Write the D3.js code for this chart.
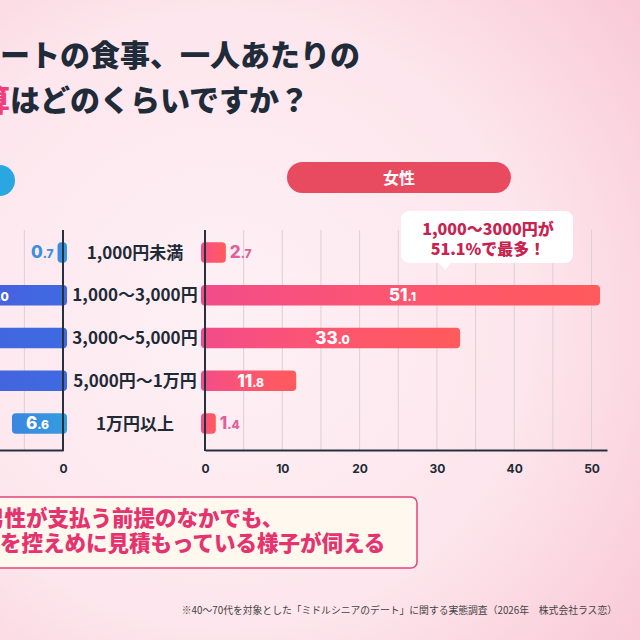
<!DOCTYPE html>
<html>
<head>
<meta charset="utf-8">
<script src="https://cdn.jsdelivr.net/npm/d3@7"></script>
<style>
  html, body { margin: 0; padding: 0; background: #fde8ee; }
  svg { display: block; font-family: "Noto Sans CJK JP", "Noto Sans", sans-serif; }
</style>
</head>
<body>
<div id="chart"></div>
<script>
let width = 640, height = 640;

// data
let categories = ["1,000円未満", "1,000〜3,000円", "3,000〜5,000円", "5,000円〜1万円", "1万円以上"];
let women = [2.7, 51.1, 33.0, 11.8, 1.4];
let men = [0.7, 18.0, 47.5, 27.2, 6.6];
let tickValues = [0, 10, 20, 30, 40, 50];
let gridValues = [5, 10, 15, 20, 25, 30, 35, 40, 45, 50];

let svg = d3.select("#chart").append("svg")
    .attr("width", width).attr("height", height)
    .attr("viewBox", [0, 0, width, height]);

let defs = svg.append("defs");
let bg = defs.append("radialGradient").attr("id", "bg")
    .attr("cx", "0.35").attr("cy", "0.5").attr("r", "0.8");
bg.append("stop").attr("offset", "0").attr("stop-color", "#fdf1f5");
bg.append("stop").attr("offset", "0.6").attr("stop-color", "#fde6ed");
bg.append("stop").attr("offset", "1").attr("stop-color", "#f9cbd8");

let wg = defs.append("linearGradient").attr("id", "wbar");
wg.append("stop").attr("offset", "0").attr("stop-color", "#f24c8a");
wg.append("stop").attr("offset", "0.5").attr("stop-color", "#fd5670");
wg.append("stop").attr("offset", "1").attr("stop-color", "#ff5a5c");

let mg = defs.append("linearGradient").attr("id", "mbar");
mg.append("stop").attr("offset", "0").attr("stop-color", "#5058e0");
mg.append("stop").attr("offset", "1").attr("stop-color", "#3e6ae0");

let mgs = defs.append("linearGradient").attr("id", "mbarSmall");
mgs.append("stop").attr("offset", "0").attr("stop-color", "#3a86e0");
mgs.append("stop").attr("offset", "1").attr("stop-color", "#349de0");

svg.append("rect").attr("width", width).attr("height", height).attr("fill", "url(#bg)");

// title
let title = svg.append("g").attr("fill", "#1f2b38").attr("font-size", 30).attr("font-weight", 900);
title.append("text").attr("x", -30).attr("y", 66).text("デートの食事、一人あたりの");
let t2 = title.append("text").attr("x", -50).attr("y", 111);
t2.append("tspan").attr("fill", "#ee3f7c").text("予算");
t2.append("tspan").text("はどのくらいですか？");

// scales
let y = d3.scaleBand().domain(categories).range([231, 445]).paddingInner(0.52).paddingOuter(0.26);
let xW = d3.scaleLinear().domain([0, 52]).range([205, 607]);
let xM = d3.scaleLinear().domain([0, 52]).range([63, 63 - 402]);
let gridTop = 230, gridBottom = 450;

// legend pills
svg.append("rect").attr("x", 287).attr("y", 162).attr("width", 224).attr("height", 31)
    .attr("rx", 15.5).attr("fill", "#e84a60");
svg.append("text").attr("x", 399).attr("y", 178).attr("dy", "0.35em")
    .attr("text-anchor", "middle").attr("fill", "#fff").attr("font-size", 16).attr("font-weight", 700).text("女性");
svg.append("rect").attr("x", -209).attr("y", 165).attr("width", 224).attr("height", 31)
    .attr("rx", 15.5).attr("fill", "#2aa6e0");
svg.append("text").attr("x", -97).attr("y", 181).attr("dy", "0.35em")
    .attr("text-anchor", "middle").attr("fill", "#fff").attr("font-size", 16).attr("font-weight", 700).text("男性");

// grid
svg.append("g").selectAll("line").data(gridValues).join("line")
    .attr("x1", d => xW(d)).attr("x2", d => xW(d))
    .attr("y1", gridTop).attr("y2", gridBottom)
    .attr("stroke", "#dccfd6").attr("stroke-width", 1);
svg.append("g").selectAll("line").data(gridValues).join("line")
    .attr("x1", d => xM(d)).attr("x2", d => xM(d))
    .attr("y1", gridTop).attr("y2", gridBottom)
    .attr("stroke", "#dccfd6").attr("stroke-width", 1);

// callout
let call = svg.append("g");
call.append("path")
    .attr("d", "M401,219 a8,8 0 0 1 8,-8 h156 a8,8 0 0 1 8,8 v36 a8,8 0 0 1 -8,8 h-114 l-6,7 l-6,-7 h-30 a8,8 0 0 1 -8,-8 z")
    .attr("fill", "#ffffff");
call.append("text").attr("x", 488).attr("y", 235).attr("text-anchor", "middle")
    .attr("fill", "#c8234f").attr("font-size", 16).attr("font-weight", 800).text("1,000〜3000円が");
call.append("text").attr("x", 488).attr("y", 255).attr("text-anchor", "middle")
    .attr("fill", "#c8234f").attr("font-size", 16).attr("font-weight", 800).text("51.1%で最多！");

// bars
let threshold = 5;
function labelParts(sel, v) {
    let s = v.toFixed(1).split(".");
    sel.append("tspan").attr("font-size", 17).text(s[0]);
    sel.append("tspan").attr("font-size", 12).text("." + s[1]);
}

let wRows = categories.map((c, i) => ({cat: c, v: women[i]}));
let mRows = categories.map((c, i) => ({cat: c, v: men[i]}));

svg.append("g").selectAll("rect").data(wRows).join("rect")
    .attr("x", xW(0) - 4).attr("y", d => y(d.cat))
    .attr("width", d => xW(d.v) - xW(0) + 4).attr("height", y.bandwidth())
    .attr("rx", 4).attr("fill", "url(#wbar)");

svg.append("g").selectAll("rect").data(mRows).join("rect")
    .attr("x", d => xM(d.v)).attr("y", d => y(d.cat))
    .attr("width", d => xM(0) - xM(d.v) + 4).attr("height", y.bandwidth())
    .attr("rx", 4).attr("fill", d => d.v < 10 ? "url(#mbarSmall)" : "url(#mbar)");

svg.append("g").selectAll("text").data(wRows).join("text")
    .attr("x", d => d.v < threshold ? xW(d.v) + 4 : (xW(0) + xW(d.v)) / 2)
    .attr("y", d => y(d.cat) + y.bandwidth() / 2).attr("dy", "0.36em")
    .attr("text-anchor", d => d.v < threshold ? "start" : "middle")
    .attr("fill", d => d.v < threshold ? "#e0609a" : "#ffffff")
    .attr("font-family", "Inter, 'Noto Sans', sans-serif").attr("font-weight", 800)
    .each(function(d) { labelParts(d3.select(this), d.v); });

svg.append("g").selectAll("text").data(mRows).join("text")
    .attr("x", d => d.v < threshold ? xM(d.v) - 4 : (xM(0) + xM(d.v)) / 2)
    .attr("y", d => y(d.cat) + y.bandwidth() / 2).attr("dy", "0.36em")
    .attr("text-anchor", d => d.v < threshold ? "end" : "middle")
    .attr("fill", d => d.v < threshold ? "#3b8ee0" : "#ffffff")
    .attr("font-family", "Inter, 'Noto Sans', sans-serif").attr("font-weight", 800)
    .each(function(d) { labelParts(d3.select(this), d.v); });

// category labels
svg.append("g").selectAll("text").data(categories).join("text")
    .attr("x", 135).attr("y", d => y(d) + y.bandwidth() / 2).attr("dy", "0.36em")
    .attr("text-anchor", "middle").attr("fill", "#1e2a36")
    .attr("font-size", 17).attr("font-weight", 700).text(d => d);

// axes
let xAxisW = d3.axisBottom(xW).tickValues(tickValues).tickSize(0).tickPadding(14);
let xAxisM = d3.axisBottom(xM).tickValues([0]).tickSize(0).tickPadding(14);
[[xAxisW, xW], [xAxisM, xM]].forEach(([ax, sc]) => {
    let g = svg.append("g").attr("transform", `translate(0,${gridBottom})`).call(ax);
    g.select(".domain").attr("stroke", "#27303c").attr("stroke-width", 2);
    g.selectAll("text").attr("fill", "#1e2a36").attr("font-size", 12).attr("font-weight", 700)
        .attr("font-family", "Inter, 'Noto Sans', sans-serif");
    svg.append("line").attr("x1", sc(0)).attr("x2", sc(0))
        .attr("y1", gridTop).attr("y2", gridBottom + 1)
        .attr("stroke", "#27303c").attr("stroke-width", 2);
});

// summary box
svg.append("rect").attr("x", -200).attr("y", 497).attr("width", 617).attr("height", 71)
    .attr("rx", 6).attr("fill", "#fff8ee").attr("stroke", "#e2457c").attr("stroke-width", 1.5);
let sum = svg.append("g").attr("fill", "#e5336f").attr("font-size", 21.5).attr("font-weight", 900);
sum.append("text").attr("x", -17).attr("y", 526).text("男性が支払う前提のなかでも、");
sum.append("text").attr("x", 0).attr("y", 551).text("を控えめに見積もっている様子が伺える");

// footnote
svg.append("text").attr("x", 617).attr("y", 614).attr("text-anchor", "end")
    .attr("fill", "#444").attr("font-size", 9.8)
    .text("※40〜70代を対象とした「ミドルシニアのデート」に関する実態調査（2026年　株式会社ラス恋）");
</script>
</body>
</html>
